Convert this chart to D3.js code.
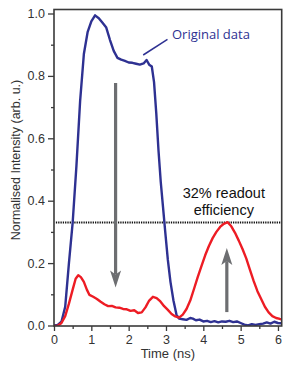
<!DOCTYPE html>
<html>
<head>
<meta charset="utf-8">
<script src="https://cdn.jsdelivr.net/npm/d3@7"></script>
<style>
  body { margin: 0; background: #fff; }
  svg text { font-family: "Liberation Sans", Arial, Helvetica, sans-serif; }
</style>
</head>
<body>
<svg id="chart"></svg>
<script>
// Full size of the svg element.
const WIDTH = 291
const HEIGHT = 370
const margin = { top: 9.5, right: 9.3, bottom: 44, left: 54 }

// Original data (blue): time in ns and normalised intensity.
const blueTime = [0.0, 0.1, 0.2, 0.3, 0.4, 0.5, 0.6, 0.7, 0.8, 0.9, 1.0, 1.1, 1.2, 1.3, 1.4, 1.5, 1.6, 1.7, 1.8, 1.9,
  2.0, 2.1, 2.2, 2.3, 2.4, 2.48, 2.55, 2.62, 2.68, 2.74, 2.8, 2.86, 2.92, 2.98, 3.05, 3.12, 3.2, 3.28, 3.35, 3.45,
  3.55, 3.65, 3.72, 3.8, 3.9, 4.0, 4.1, 4.2, 4.3, 4.4, 4.5, 4.6, 4.7, 4.8, 4.9, 5.0, 5.1, 5.2, 5.3, 5.4,
  5.5, 5.6, 5.7, 5.8, 5.9, 6.0, 6.1]
const blueValues = [0.0, 0.002, 0.012, 0.06, 0.2, 0.33, 0.51, 0.72, 0.87, 0.94, 0.975, 0.994, 0.985, 0.97, 0.955, 0.915, 0.88, 0.858, 0.852, 0.848,
  0.843, 0.842, 0.839, 0.836, 0.84, 0.851, 0.836, 0.83, 0.78, 0.68, 0.56, 0.46, 0.38, 0.3, 0.21, 0.14, 0.08, 0.035, 0.022, 0.02,
  0.018, 0.024, 0.022, 0.017, 0.019, 0.013, 0.015, 0.011, 0.014, 0.01, 0.013, 0.012, 0.015, 0.011, 0.013, 0.008, 0.003, 0.0, 0.004, 0.002,
  0.004, 0.006, 0.01, 0.006, 0.012, 0.008, 0.007]

// Readout (red).
const redTime = [0.0, 0.1, 0.2, 0.3, 0.4, 0.5, 0.58, 0.65, 0.72, 0.8, 0.88, 0.95, 1.05, 1.15, 1.25, 1.35, 1.45, 1.55, 1.65, 1.75,
  1.85, 1.95, 2.05, 2.15, 2.25, 2.35, 2.45, 2.55, 2.65, 2.75, 2.85, 2.95, 3.05, 3.15, 3.25, 3.35, 3.45, 3.55, 3.65, 3.75,
  3.85, 3.95, 4.05, 4.15, 4.25, 4.35, 4.45, 4.55, 4.65, 4.75, 4.85, 4.95, 5.05, 5.15, 5.25, 5.35, 5.45, 5.55, 5.65, 5.75,
  5.85, 5.95, 6.05, 6.1]
const redValues = [-0.002, -0.001, 0.008, 0.03, 0.07, 0.115, 0.15, 0.161, 0.155, 0.14, 0.115, 0.098, 0.092, 0.085, 0.076, 0.068, 0.062, 0.063, 0.058, 0.057,
  0.053, 0.052, 0.047, 0.049, 0.04, 0.042, 0.058, 0.08, 0.092, 0.088, 0.077, 0.062, 0.05, 0.037, 0.029, 0.025, 0.035, 0.053, 0.08, 0.117,
  0.155, 0.19, 0.225, 0.255, 0.28, 0.3, 0.316, 0.326, 0.331, 0.318, 0.297, 0.272, 0.245, 0.215, 0.178, 0.142, 0.11, 0.085, 0.06, 0.042,
  0.03, 0.024, 0.021, 0.02]

// Tick values.
const xTicks = [0, 1, 2, 3, 4, 5, 6]
const xMinorTicks = [0.5, 1.5, 2.5, 3.5, 4.5, 5.5]
const yTicks = [0, 0.2, 0.4, 0.6, 0.8, 1.0]
const yMinorTicks = [0.1, 0.3, 0.5, 0.7, 0.9]

// Annotations: arrows (time, from, to) and readout efficiency level.
const arrows = [
  { t: 1.65, from: 0.777, to: 0.122 },
  { t: 4.63, from: 0.043, to: 0.248 },
]
const efficiency = 0.33

const BLUE = "#2e3192"
const RED = "#ed1c24"
const GREY = "#6d6e71"
const AXIS = "#3a3a3a"

const x = d3.scaleLinear().domain([0, 6.1]).range([margin.left, WIDTH - margin.right])
const y = d3.scaleLinear().domain([0, 1]).range([325.5, 13.5])

const svg = d3.select("#chart").attr("width", WIDTH).attr("height", HEIGHT)

const plotBottom = HEIGHT - margin.bottom
const plotTop = margin.top

// clip so curves stay inside the frame
svg.append("clipPath").attr("id", "clip")
  .append("rect")
  .attr("x", margin.left).attr("y", plotTop)
  .attr("width", WIDTH - margin.right - margin.left)
  .attr("height", plotBottom - plotTop)

// dotted readout level
svg.append("line")
  .attr("x1", x(0.05)).attr("x2", x(6.1))
  .attr("y1", y(efficiency)).attr("y2", y(efficiency))
  .attr("stroke", "#111").attr("stroke-width", 2)
  .attr("stroke-dasharray", "1.3,1")

const line = d3.line().x((d) => x(d[0])).y((d) => y(d[1])).curve(d3.curveLinear)

const blue = d3.zip(blueTime, blueValues)
const red = d3.zip(redTime, redValues)

const curves = svg.append("g").attr("clip-path", "url(#clip)")
curves.append("path").datum(blue)
  .attr("d", line).attr("fill", "none")
  .attr("stroke", BLUE).attr("stroke-width", 2.4).attr("stroke-linejoin", "round")
curves.append("path").datum(red)
  .attr("d", line).attr("fill", "none")
  .attr("stroke", RED).attr("stroke-width", 2.4).attr("stroke-linejoin", "round")

// grey arrows
for (const a of arrows) {
  const dir = a.to < a.from ? 1 : -1 // +1 pointing down on screen
  const xs = x(a.t)
  const tipY = y(a.to)
  const headLen = 17
  const baseY = tipY - dir * headLen
  svg.append("line")
    .attr("x1", xs).attr("x2", xs)
    .attr("y1", y(a.from)).attr("y2", baseY + dir * 4)
    .attr("stroke", GREY).attr("stroke-width", 3.2)
  svg.append("path")
    .attr("d", `M${xs},${tipY} L${xs - 5.5},${baseY} L${xs},${baseY + dir * 4} L${xs + 5.5},${baseY} Z`)
    .attr("fill", GREY)
}

// axes
const yAxis = d3.axisLeft(y).tickValues(yTicks).tickSize(6).tickPadding(3).tickFormat(d3.format(".1f"))
const yMinor = d3.axisLeft(y).tickValues(yMinorTicks).tickSize(3).tickFormat("")
const xAxis = d3.axisBottom(x).tickValues(xTicks).tickSize(5).tickPadding(4).tickFormat(d3.format("d"))
const xMinor = d3.axisBottom(x).tickValues(xMinorTicks).tickSize(3).tickFormat("")

function styleAxis(g) {
  g.select(".domain").remove()
  g.selectAll("line").attr("stroke", AXIS).attr("stroke-width", 1.3)
  g.selectAll("text").attr("fill", "#333").style("font-size", "12.5px")
}

svg.append("g").attr("transform", `translate(${margin.left},0)`).call(yAxis).call(styleAxis)
svg.append("g").attr("transform", `translate(${margin.left},0)`).call(yMinor).call(styleAxis)
svg.append("g").attr("transform", `translate(0,${plotBottom})`).call(xAxis).call(styleAxis)
svg.append("g").attr("transform", `translate(0,${plotBottom})`).call(xMinor).call(styleAxis)

// frame
svg.append("rect")
  .attr("x", margin.left).attr("y", plotTop)
  .attr("width", WIDTH - margin.right - margin.left)
  .attr("height", plotBottom - plotTop)
  .attr("fill", "none").attr("stroke", AXIS).attr("stroke-width", 1.6)

// axis titles
svg.append("text")
  .attr("x", (margin.left + WIDTH - margin.right) / 2).attr("y", 358)
  .attr("text-anchor", "middle").attr("fill", "#333").style("font-size", "13px")
  .text("Time (ns)")

svg.append("text")
  .attr("transform", `translate(20,160) rotate(-90)`)
  .attr("text-anchor", "middle").attr("fill", "#333").style("font-size", "12.5px")
  .text("Normalised Intensity (arb. u.)")

// "Original data" label with leader
svg.append("line")
  .attr("x1", x(2.39)).attr("y1", y(0.867))
  .attr("x2", x(3.04)).attr("y2", y(0.917))
  .attr("stroke", BLUE).attr("stroke-width", 1.5)
svg.append("text")
  .attr("x", x(3.16)).attr("y", y(0.917))
  .attr("fill", BLUE).style("font-family", "'Open Sans', 'Noto Sans', sans-serif").style("font-size", "13px")
  .text("Original data")

// readout efficiency label
const effLabel = svg.append("text")
  .attr("x", x(4.55)).attr("y", 198)
  .attr("text-anchor", "middle").attr("fill", "#111").style("font-size", "14.5px")
effLabel.append("tspan").attr("x", x(4.55)).text("32% readout")
effLabel.append("tspan").attr("x", x(4.55)).attr("dy", 17).text("efficiency")
</script>
</body>
</html>
